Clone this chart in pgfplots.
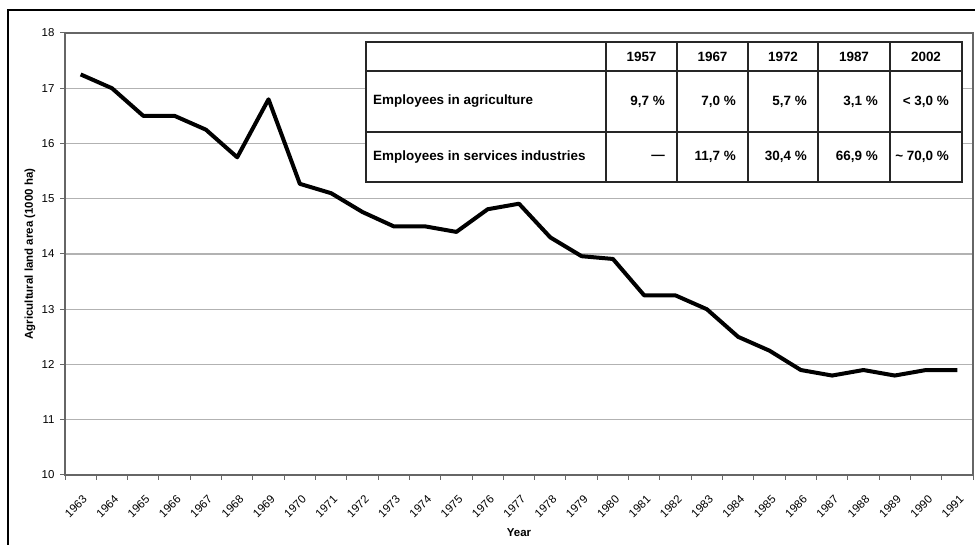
\documentclass[border=0pt]{standalone}
\usepackage{pgfplots}
\pgfplotsset{compat=1.18}
\usepackage{fontspec}
\setmainfont{Liberation Sans}
\begin{document}
\begin{tikzpicture}[x=1bp,y=1bp]
\useasboundingbox (0,0) rectangle (975,545);
\draw[line width=1.6bp, black] (8,0) -- (8,535) -- (975,535);
\begin{axis}[
  at={(65bp,70bp)}, anchor=south west,
  width=908bp, height=442bp, scale only axis,
  xmin=-0.5, xmax=28.5, ymin=10, ymax=18,
  ytick={10,11,...,18},
  xtick={0,1,...,28},
  xticklabels={1963,1964,1965,1966,1967,1968,1969,1970,1971,1972,1973,1974,1975,1976,1977,1978,1979,1980,1981,1982,1983,1984,1985,1986,1987,1988,1989,1990,1991},
  minor xtick={-0.5,0.5,...,28.5},
  major x tick style={draw=none},
  ymajorgrids, xmajorgrids=false,
  grid style={draw=gray!60, line width=1.2bp},
  axis line style={draw=gray!80!black, line width=1.3bp},
  tick style={draw=gray!80!black, line width=1bp},
  tick align=outside,
  major tick length=5bp, minor tick length=5bp,
  xtick pos=left, ytick pos=left,
  xticklabel style={rotate=45, anchor=north east, inner sep=1bp, xshift=-8bp, yshift=-10bp, font=\fontsize{11.5}{13}\selectfont},
  yticklabel style={xshift=-2bp, font=\fontsize{11.5}{13}\selectfont},
  /pgf/number format/assume math mode=true,
  xlabel={Year}, ylabel={Agricultural land area (1000 ha)},
  every axis x label/.style={at={(axis description cs:0.5,-0.131)}, anchor=center, font=\bfseries\fontsize{11.5}{13}\selectfont},
  every axis y label/.style={at={(axis description cs:-0.0385,0.5)}, anchor=center, rotate=90, font=\bfseries\fontsize{11.5}{13}\selectfont},
  clip=false,
]
\addplot[black, line width=4bp, line join=round, mark=none] coordinates {
(0,17.25) (1,17.0) (2,16.5) (3,16.5) (4,16.25) (5,15.75) (6,16.8) (7,15.27)
(8,15.1) (9,14.76) (10,14.5) (11,14.5) (12,14.4) (13,14.81) (14,14.91)
(15,14.3) (16,13.96) (17,13.91) (18,13.25) (19,13.25) (20,13.0) (21,12.5)
(22,12.25) (23,11.9) (24,11.8) (25,11.9) (26,11.8) (27,11.9) (28,11.9)
};
\end{axis}
% table
\fill[white] (366,363) rectangle (962,503);
\draw[line width=1.5bp, black!85] (366,363) rectangle (962,503);
\draw[line width=1.5bp, black!85] (366,474) -- (962,474) (366,413) -- (962,413);
\foreach \xx in {606,677,748,818,890} \draw[line width=1.5bp, black!85] (\xx,363) -- (\xx,503);
\begin{scope}[every node/.style={font=\bfseries\fontsize{13.5}{15}\selectfont, inner sep=0pt}]
\node at (641.5,488.5) {1957};
\node at (712.5,488.5) {1967};
\node at (783,488.5) {1972};
\node at (854,488.5) {1987};
\node at (926,488.5) {2002};
\node[anchor=west] at (373,443.5) {Employees in agriculture};
\node[anchor=west] at (373,388) {Employees in services industries};
\node[anchor=east] at (665,443.5) {9,7 \%};
\node[anchor=east] at (736,443.5) {7,0 \%};
\node[anchor=east] at (807,443.5) {5,7 \%};
\node[anchor=east] at (878,443.5) {3,1 \%};
\node[anchor=east] at (949,443.5) {< 3,0 \%};
\node[anchor=east] at (665,388) {—};
\node[anchor=east] at (736,388) {11,7 \%};
\node[anchor=east] at (807,388) {30,4 \%};
\node[anchor=east] at (878,388) {66,9 \%};
\node[anchor=east] at (949,388) {\textasciitilde{} 70,0 \%};
\end{scope}
\end{tikzpicture}
\end{document}
